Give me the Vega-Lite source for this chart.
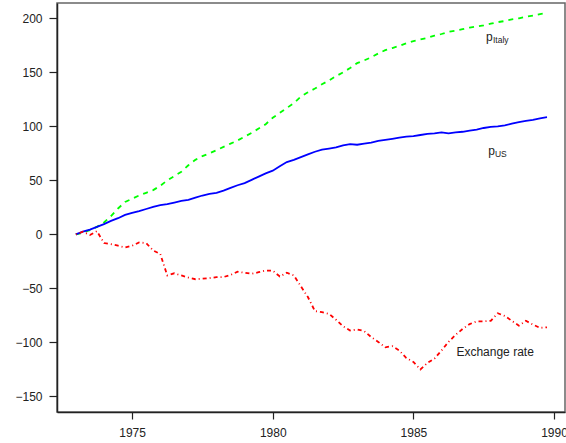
{
  "$schema": "https://vega.github.io/schema/vega-lite/v6.json",
  "autosize": "none",
  "width": 508,
  "height": 409,
  "padding": {"left": 57, "top": 3, "right": 1, "bottom": 31},
  "background": "white",
  "config": {
    "font": "Liberation Sans",
    "view": {"stroke": "#666", "strokeWidth": 1.5},
    "axis": {
      "grid": false,
      "title": null,
      "domainColor": "#222",
      "domainWidth": 1.5,
      "tickColor": "#222",
      "tickWidth": 1.2,
      "labelColor": "#222",
      "labelFontSize": 12,
      "labelFont": "Liberation Sans"
    }
  },
  "datasets": {
    "series": [
      {"t": 1973.00, "us": 0, "italy": 0, "ex": 0},
      {"t": 1973.25, "us": 2.5, "italy": 1.5, "ex": 2.5},
      {"t": 1973.50, "us": 4.5, "italy": 4, "ex": -0.5},
      {"t": 1973.75, "us": 7, "italy": 7, "ex": 3},
      {"t": 1974.00, "us": 9.5, "italy": 11, "ex": -8},
      {"t": 1974.25, "us": 12.5, "italy": 17, "ex": -9},
      {"t": 1974.50, "us": 15, "italy": 24, "ex": -10.5},
      {"t": 1974.75, "us": 18, "italy": 30, "ex": -12},
      {"t": 1975.00, "us": 20, "italy": 33, "ex": -10.5},
      {"t": 1975.25, "us": 21.5, "italy": 36, "ex": -7.5},
      {"t": 1975.50, "us": 23.5, "italy": 38.5, "ex": -8},
      {"t": 1975.75, "us": 25.5, "italy": 41, "ex": -15},
      {"t": 1976.00, "us": 27, "italy": 45, "ex": -18},
      {"t": 1976.25, "us": 28, "italy": 50, "ex": -38},
      {"t": 1976.50, "us": 29.5, "italy": 54, "ex": -36},
      {"t": 1976.75, "us": 31, "italy": 58, "ex": -38},
      {"t": 1977.00, "us": 32, "italy": 64, "ex": -40},
      {"t": 1977.25, "us": 34, "italy": 69, "ex": -41.5},
      {"t": 1977.50, "us": 36, "italy": 72.5, "ex": -41},
      {"t": 1977.75, "us": 37.5, "italy": 75, "ex": -40.5},
      {"t": 1978.00, "us": 38.5, "italy": 78, "ex": -39.5},
      {"t": 1978.25, "us": 40.5, "italy": 81, "ex": -39.5},
      {"t": 1978.50, "us": 43, "italy": 84, "ex": -37.5},
      {"t": 1978.75, "us": 45.5, "italy": 87, "ex": -34.5},
      {"t": 1979.00, "us": 47.5, "italy": 90.5, "ex": -35.5},
      {"t": 1979.25, "us": 50.5, "italy": 94, "ex": -36.5},
      {"t": 1979.50, "us": 53.5, "italy": 98, "ex": -35},
      {"t": 1979.75, "us": 56.5, "italy": 102, "ex": -33.5},
      {"t": 1980.00, "us": 59, "italy": 108, "ex": -33.5},
      {"t": 1980.25, "us": 63, "italy": 112.5, "ex": -39},
      {"t": 1980.50, "us": 67, "italy": 117, "ex": -35.5},
      {"t": 1980.75, "us": 69, "italy": 121.5, "ex": -38},
      {"t": 1981.00, "us": 71.5, "italy": 127.5, "ex": -48},
      {"t": 1981.25, "us": 74, "italy": 131.5, "ex": -58},
      {"t": 1981.50, "us": 76.5, "italy": 135, "ex": -71},
      {"t": 1981.75, "us": 78.5, "italy": 139, "ex": -72},
      {"t": 1982.00, "us": 79.5, "italy": 142.5, "ex": -73.5},
      {"t": 1982.25, "us": 80.5, "italy": 146.5, "ex": -79},
      {"t": 1982.50, "us": 82.5, "italy": 150, "ex": -85},
      {"t": 1982.75, "us": 83.5, "italy": 154, "ex": -89},
      {"t": 1983.00, "us": 83, "italy": 158.5, "ex": -88},
      {"t": 1983.25, "us": 84, "italy": 161, "ex": -89.5},
      {"t": 1983.50, "us": 85, "italy": 164, "ex": -95},
      {"t": 1983.75, "us": 86.5, "italy": 167.5, "ex": -99.5},
      {"t": 1984.00, "us": 87.5, "italy": 170.5, "ex": -104.5},
      {"t": 1984.25, "us": 88.5, "italy": 172.5, "ex": -103.5},
      {"t": 1984.50, "us": 89.5, "italy": 174.5, "ex": -107.5},
      {"t": 1984.75, "us": 90.5, "italy": 177, "ex": -114.5},
      {"t": 1985.00, "us": 91, "italy": 179, "ex": -118},
      {"t": 1985.25, "us": 92, "italy": 180.5, "ex": -125},
      {"t": 1985.50, "us": 93, "italy": 182, "ex": -119},
      {"t": 1985.75, "us": 93.5, "italy": 184, "ex": -115},
      {"t": 1986.00, "us": 94.5, "italy": 185.5, "ex": -107.5},
      {"t": 1986.25, "us": 93.5, "italy": 187.5, "ex": -99.5},
      {"t": 1986.50, "us": 94.5, "italy": 188.5, "ex": -93},
      {"t": 1986.75, "us": 95, "italy": 190, "ex": -87.5},
      {"t": 1987.00, "us": 96, "italy": 191.5, "ex": -83},
      {"t": 1987.25, "us": 97, "italy": 192.5, "ex": -80.5},
      {"t": 1987.50, "us": 98.5, "italy": 193.5, "ex": -80.5},
      {"t": 1987.75, "us": 99.5, "italy": 195, "ex": -80},
      {"t": 1988.00, "us": 100, "italy": 196.5, "ex": -73},
      {"t": 1988.25, "us": 101, "italy": 197.5, "ex": -75.5},
      {"t": 1988.50, "us": 102.5, "italy": 199, "ex": -80},
      {"t": 1988.75, "us": 104, "italy": 200, "ex": -84.5},
      {"t": 1989.00, "us": 105, "italy": 201.5, "ex": -80},
      {"t": 1989.25, "us": 106, "italy": 202.5, "ex": -83.5},
      {"t": 1989.50, "us": 107.5, "italy": 204, "ex": -86.5},
      {"t": 1989.75, "us": 108.5, "italy": 205, "ex": -86}
    ],
    "labelsBig": [
      {"x": 1987.58, "y": 178.8, "label": "p"},
      {"x": 1987.66, "y": 73.8, "label": "p"},
      {"x": 1986.53, "y": -112.3, "label": "Exchange rate"}
    ],
    "labelsSmall": [
      {"x": 1987.83, "y": 177.2, "label": "Italy"},
      {"x": 1987.90, "y": 71.8, "label": "US"}
    ]
  },
  "layer": [
    {
      "mark": {"type": "rule", "color": "#555", "strokeDash": [1, 2], "strokeWidth": 1},
      "encoding": {"y": {"datum": 0, "type": "quantitative"}}
    },
    {
      "data": {"name": "series"},
      "mark": {"type": "line", "color": "#00FF00", "strokeWidth": 1.8, "strokeDash": [5, 5]},
      "encoding": {
        "x": {
          "field": "t", "type": "quantitative",
          "scale": {"domain": [1972.33, 1990.39], "nice": false, "zero": false},
          "axis": {"values": [1975, 1980, 1985, 1990], "format": "d", "tickSize": 7, "labelPadding": 8, "labelFlush": false}
        },
        "y": {
          "field": "italy", "type": "quantitative",
          "scale": {"domain": [-164.4, 214.2], "nice": false, "zero": false},
          "axis": {"values": [-150, -100, -50, 0, 50, 100, 150, 200], "tickSize": 8, "labelPadding": 7}
        }
      }
    },
    {
      "data": {"name": "series"},
      "mark": {"type": "line", "color": "#0000FF", "strokeWidth": 1.8},
      "encoding": {
        "x": {"field": "t", "type": "quantitative"},
        "y": {"field": "us", "type": "quantitative"}
      }
    },
    {
      "data": {"name": "series"},
      "mark": {"type": "line", "color": "#FF0000", "strokeWidth": 1.8, "strokeDash": [1, 3, 4, 3]},
      "encoding": {
        "x": {"field": "t", "type": "quantitative"},
        "y": {"field": "ex", "type": "quantitative"}
      }
    },
    {
      "data": {"name": "labelsBig"},
      "mark": {"type": "text", "align": "left", "baseline": "alphabetic", "fontSize": 12, "color": "#222"},
      "encoding": {
        "x": {"field": "x", "type": "quantitative"},
        "y": {"field": "y", "type": "quantitative"},
        "text": {"field": "label"}
      }
    },
    {
      "data": {"name": "labelsSmall"},
      "mark": {"type": "text", "align": "left", "baseline": "alphabetic", "fontSize": 8.5, "color": "#222"},
      "encoding": {
        "x": {"field": "x", "type": "quantitative"},
        "y": {"field": "y", "type": "quantitative"},
        "text": {"field": "label"}
      }
    }
  ]
}
